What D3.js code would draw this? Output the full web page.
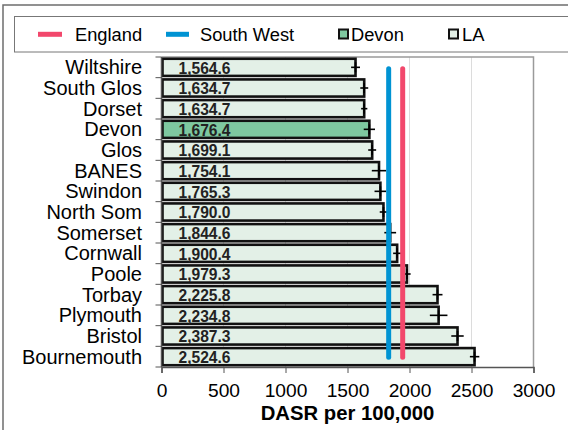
<!DOCTYPE html>
<html><head><meta charset="utf-8">
<script src="https://cdn.jsdelivr.net/npm/d3@7"></script>
<style>body{margin:0;background:#fff}svg{display:block;font-family:"Liberation Sans",Arial,sans-serif}</style>
</head><body><svg id="c" width="568" height="430"></svg>
<script>
const categories = ["Wiltshire","South Glos","Dorset","Devon","Glos","BANES","Swindon","North Som","Somerset","Cornwall","Poole","Torbay","Plymouth","Bristol","Bournemouth"];
const values = [1564.6,1634.7,1634.7,1676.4,1699.1,1754.1,1765.3,1790.0,1844.6,1900.4,1979.3,2225.8,2234.8,2387.3,2524.6];
const lower = [1529,1603,1610,1631,1667,1696,1718,1760,1797,1868,1949,2186,2164,2337,2487];
const upper = [1601,1667,1660,1722,1731,1812,1812,1820,1892,1932,2009,2266,2306,2437,2563];
const englandValue = 1945;
const southWestValue = 1832;
const xTicks = [0,500,1000,1500,2000,2500,3000];
const highlight = "Devon";
const legendItems = ["England","South West","Devon","LA"];

const svg = d3.select("#c");
const m = {l:161.5, r:533.5, t:57, b:367};
const x = d3.scaleLinear().domain([0,3000]).range([m.l,m.r]);
const y = d3.scaleBand().domain(categories).range([m.t,m.b]).paddingInner(0.17).paddingOuter(0.085);
const yb = d3.scaleBand().domain(categories).range([m.t,m.b]);
const colEng = "#f2486c", colSW = "#0093d3";

// outer frame
svg.append("path").attr("d","M3,430 V5 H568").attr("fill","none").attr("stroke","#6e6e6e").attr("stroke-width",1.5);
// legend box
svg.append("rect").attr("x",14.5).attr("y",16.5).attr("width",570).attr("height",35.5).attr("fill","#fff").attr("stroke","#777").attr("stroke-width",1);
const lg = svg.append("g");
const ly = 34.3;
lg.append("line").attr("x1",38).attr("x2",62).attr("y1",ly).attr("y2",ly).attr("stroke",colEng).attr("stroke-width",5);
lg.append("text").attr("x",75).attr("y",40.7).attr("font-size",18.3).text(legendItems[0]);
lg.append("line").attr("x1",166).attr("x2",189).attr("y1",ly).attr("y2",ly).attr("stroke",colSW).attr("stroke-width",5);
lg.append("text").attr("x",200).attr("y",40.7).attr("font-size",18.3).text(legendItems[1]);
lg.append("rect").attr("x",339).attr("y",29.5).attr("width",9).attr("height",9).attr("fill","#7ec8a0").attr("stroke","#111").attr("stroke-width",2);
lg.append("text").attr("x",351).attr("y",40.7).attr("font-size",18.3).text(legendItems[2]);
lg.append("rect").attr("x",449).attr("y",29.5).attr("width",9).attr("height",9).attr("fill","#e3f0e7").attr("stroke","#111").attr("stroke-width",2);
lg.append("text").attr("x",462).attr("y",40.7).attr("font-size",18.3).text(legendItems[3]);

// gridlines
svg.append("g").selectAll("line").data(xTicks.slice(1,-1)).join("line")
  .attr("x1",d=>x(d)).attr("x2",d=>x(d)).attr("y1",m.t).attr("y2",m.b)
  .attr("stroke","#dcdcdc").attr("stroke-width",1);
// plot border top/right
svg.append("path").attr("d",`M${m.l},${m.t} H${m.r} V${m.b}`).attr("fill","none").attr("stroke","#9a9a9a").attr("stroke-width",1.5);

// bars
svg.append("g").selectAll("rect").data(categories).join("rect")
  .attr("x",x(0)+1).attr("y",d=>y(d)).attr("width",(d,i)=>x(values[i])-x(0)-1).attr("height",y.bandwidth())
  .attr("fill",d=>d===highlight?"#7ec8a0":"#e3f0e7").attr("stroke","#111").attr("stroke-width",2.6);

// error bars
const eg = svg.append("g").attr("stroke","#000").attr("stroke-width",1.6);
categories.forEach((c,i)=>{
  const cy = y(c)+y.bandwidth()/2;
  eg.append("line").attr("x1",x(lower[i])).attr("x2",x(upper[i])).attr("y1",cy).attr("y2",cy);
  eg.append("line").attr("x1",x(values[i])).attr("x2",x(values[i])).attr("y1",cy-5).attr("y2",cy+5);
});

// value labels
svg.append("g").selectAll("text").data(categories).join("text")
  .attr("x",x(0)+17).attr("y",d=>y(d)+y.bandwidth()/2+6.2)
  .attr("font-size",15.6).attr("font-weight","bold").attr("fill","#222")
  .text((d,i)=>d3.format(",.1f")(values[i]));

// reference lines
const c0 = yb(categories[0])+yb.bandwidth()/2, c1 = yb(categories[categories.length-1])+yb.bandwidth()/2;
svg.append("line").attr("x1",x(southWestValue)).attr("x2",x(southWestValue)).attr("y1",c0+1.5).attr("y2",c1+0.5)
  .attr("stroke",colSW).attr("stroke-width",5).attr("stroke-linecap","round");
svg.append("line").attr("x1",x(englandValue)).attr("x2",x(englandValue)).attr("y1",c0+1.5).attr("y2",c1+0.5)
  .attr("stroke",colEng).attr("stroke-width",5).attr("stroke-linecap","round");

// axes
const xa = svg.append("g").attr("transform",`translate(0,${m.b})`)
  .call(d3.axisBottom(x).tickValues(xTicks).tickSize(6).tickPadding(10).tickFormat(d3.format("d")));
xa.select(".domain").attr("stroke","#555").attr("stroke-width",1.5);
xa.selectAll(".tick line").attr("stroke","#555");
xa.selectAll("text").attr("font-size",19.2).attr("fill","#000").attr("font-family","Liberation Sans, Arial");

const ya = svg.append("g");
ya.append("line").attr("x1",m.l).attr("x2",m.l).attr("y1",m.t).attr("y2",m.b).attr("stroke","#555").attr("stroke-width",1.5);
const bounds = categories.map(c=>yb(c)).concat([m.b]);
ya.selectAll("line.t").data(bounds).join("line").attr("class","t")
  .attr("x1",m.l-6).attr("x2",m.l).attr("y1",d=>d).attr("y2",d=>d).attr("stroke","#555");
ya.selectAll("text").data(categories).join("text")
  .attr("x",142).attr("y",d=>yb(d)+yb.bandwidth()/2+7).attr("text-anchor","end")
  .attr("font-size",20).attr("fill","#000").text(d=>d);

svg.append("text").attr("x",(m.l+m.r)/2).attr("y",419.5).attr("text-anchor","middle")
  .attr("font-size",20.3).attr("font-weight","bold").text("DASR per 100,000");
</script></body></html>
